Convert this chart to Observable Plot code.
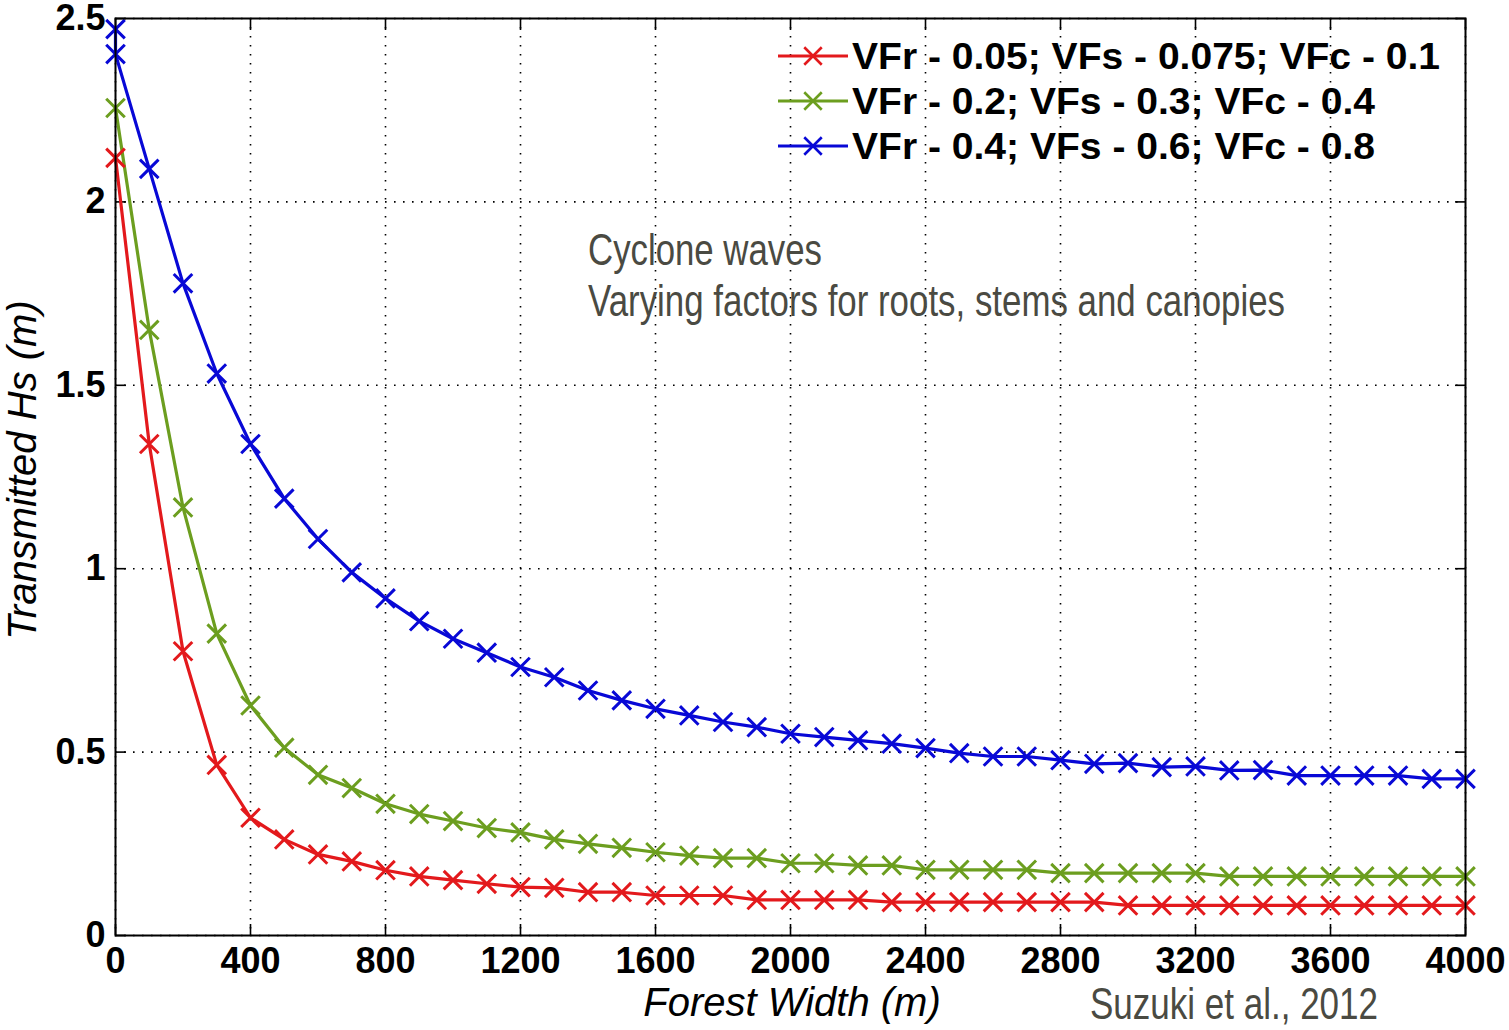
<!DOCTYPE html>
<html><head><meta charset="utf-8">
<script src="https://cdn.jsdelivr.net/npm/d3@7"></script>
<script src="https://cdn.jsdelivr.net/npm/@observablehq/plot@0.6"></script>
<style>html,body{margin:0;padding:0;background:#fff} svg{display:block}</style>
</head><body><div id="chart"></div>
<script>
// Forest width (m), every 100 m
const widths = [0,100,200,300,400,500,600,700,800,900,1000,1100,1200,1300,1400,1500,1600,1700,1800,1900,2000,
  2100,2200,2300,2400,2500,2600,2700,2800,2900,3000,3100,3200,3300,3400,3500,3600,3700,3800,3900,4000];
// blue series has an extra starting point at x = 0
const blueWidths = [0, ...widths];

const redVals = [2.12,1.34,0.775,0.465,0.321,0.262,0.221,0.202,0.178,0.161,0.151,0.141,0.132,0.130,0.118,0.118,
  0.109,0.109,0.109,0.097,0.097,0.097,0.097,0.091,0.091,0.091,0.091,0.091,0.091,0.091,
  0.082,0.082,0.082,0.082,0.082,0.082,0.082,0.082,0.082,0.082,0.082];
const greenVals = [2.256,1.651,1.167,0.823,0.627,0.512,0.438,0.402,0.359,0.331,0.312,0.293,0.281,0.262,0.250,0.239,
  0.227,0.218,0.211,0.211,0.197,0.197,0.191,0.191,0.179,0.179,0.179,0.179,0.170,0.170,0.170,0.170,0.170,
  0.161,0.161,0.161,0.161,0.161,0.161,0.161,0.161];
const blueVals = [2.471,2.403,2.090,1.778,1.532,1.340,1.191,1.081,0.990,0.919,0.857,0.809,0.771,0.732,0.704,0.668,
  0.641,0.618,0.600,0.582,0.568,0.550,0.541,0.532,0.523,0.511,0.497,0.488,0.488,0.478,0.468,0.470,0.459,0.461,
  0.450,0.451,0.436,0.436,0.436,0.436,0.427,0.427];

const seriesNames = ["VFr - 0.05; VFs - 0.075; VFc - 0.1", "VFr - 0.2; VFs - 0.3; VFc - 0.4", "VFr - 0.4; VFs - 0.6; VFc - 0.8"];
const seriesColors = ["#e3191c", "#6c9e1f", "#0808d6"];
const xTicks = [0,400,800,1200,1600,2000,2400,2800,3200,3600,4000];
const yTicks = [0,0.5,1,1.5,2,2.5];
const xLabel = "Forest Width (m)";
const yLabel = "Transmitted Hs (m)";
const noteLines = ["Cyclone waves", "Varying factors for roots, stems and canopies"];
const sourceText = "Suzuki et al., 2012";

const rows = [
  ...widths.map((w, i) => ({x: w, y: redVals[i], series: seriesNames[0]})),
  ...widths.map((w, i) => ({x: w, y: greenVals[i], series: seriesNames[1]})),
  ...blueWidths.map((w, i) => ({x: w, y: blueVals[i], series: seriesNames[2]}))
];

const tickFont = {fontSize: 36, fontWeight: "bold"};

const plot = Plot.plot({
  width: 1509, height: 1030,
  marginLeft: 115, marginRight: 44, marginTop: 18, marginBottom: 95,
  style: {fontFamily: "'Liberation Sans', Arial, sans-serif", background: "#fff", overflow: "visible", color: "#000"},
  x: {domain: [0, 4000]},
  y: {domain: [0, 2.5]},
  color: {domain: seriesNames, range: seriesColors},
  marks: [
    Plot.gridX(xTicks, {stroke: "#000", strokeOpacity: 1, strokeWidth: 1.6, strokeDasharray: "1.6,7.4"}),
    Plot.gridY(yTicks, {stroke: "#000", strokeOpacity: 1, strokeWidth: 1.6, strokeDasharray: "1.6,7.4"}),
    Plot.axisX(xTicks, {anchor: "bottom", tickSize: -11, text: null, label: null, strokeWidth: 1.6}),
    Plot.axisX(xTicks, {anchor: "top", tickSize: -11, text: null, label: null, strokeWidth: 1.6}),
    Plot.axisY(yTicks, {anchor: "left", tickSize: -11, text: null, label: null, strokeWidth: 1.6}),
    Plot.axisY(yTicks, {anchor: "right", tickSize: -11, text: null, label: null, strokeWidth: 1.6}),
    Plot.axisX(xTicks, {anchor: "bottom", tickSize: 0, tickPadding: 12, label: null, tickFormat: d => String(d), ...tickFont}),
    Plot.axisY(yTicks, {anchor: "left", tickSize: 0, tickPadding: 10, label: null, tickFormat: d => String(d), ...tickFont}),
    Plot.line(rows, {x: "x", y: "y", z: "series", stroke: "series", strokeWidth: 3.2}),
    Plot.dot(rows, {x: "x", y: "y", stroke: "series", symbol: "times", r: 8.5, strokeWidth: 3}),
    Plot.frame({stroke: "#000", strokeWidth: 2})
  ]
});

const svg = d3.select(plot);
const baseFont = "'Liberation Sans', Arial, sans-serif";
// axis titles
svg.append("text").text(xLabel)
  .attr("x", 792).attr("y", 1016).attr("text-anchor", "middle")
  .attr("font-family", baseFont).attr("font-style", "italic")
  .attr("font-size", 40).attr("fill", "#000");
svg.append("text").text(yLabel)
  .attr("transform", "translate(36,470) rotate(-90)").attr("text-anchor", "middle")
  .attr("font-family", baseFont).attr("font-style", "italic")
  .attr("font-size", 40).attr("fill", "#000");

// legend
const lg = svg.append("g").attr("text-anchor", "start");
seriesNames.forEach((name, i) => {
  const cy = 56 + 45 * i;
  lg.append("line").attr("x1", 778).attr("x2", 848).attr("y1", cy).attr("y2", cy)
    .attr("stroke", seriesColors[i]).attr("stroke-width", 3);
  lg.append("path").attr("d", d3.symbol(d3.symbolTimes, Math.PI * 64)())
    .attr("transform", `translate(813,${cy})`).attr("fill", "none")
    .attr("stroke", seriesColors[i]).attr("stroke-width", 2.6);
  lg.append("text").text(name).attr("x", 852).attr("y", cy + 13).attr("text-anchor", "start")
    .attr("font-family", baseFont).attr("font-weight", "bold")
    .attr("font-size", 37).attr("fill", "#000")
    .attr("textLength", [588, 523, 523][i]).attr("lengthAdjust", "spacingAndGlyphs");
});

// annotation
const noteFont = "'Liberation Sans Narrow', 'Liberation Sans', Arial, sans-serif";
svg.append("text").text(noteLines[0]).attr("x", 588).attr("y", 265).attr("text-anchor", "start")
  .attr("font-family", noteFont).attr("font-size", 44).attr("fill", "#4a4a42")
  .attr("textLength", 234).attr("lengthAdjust", "spacingAndGlyphs");
svg.append("text").text(noteLines[1]).attr("x", 588).attr("y", 316).attr("text-anchor", "start")
  .attr("font-family", noteFont).attr("font-size", 44).attr("fill", "#4a4a42")
  .attr("textLength", 697).attr("lengthAdjust", "spacingAndGlyphs");
svg.append("text").text(sourceText).attr("x", 1090).attr("y", 1019).attr("text-anchor", "start")
  .attr("font-family", noteFont).attr("font-size", 44).attr("fill", "#4a4a42")
  .attr("textLength", 288).attr("lengthAdjust", "spacingAndGlyphs");

document.getElementById("chart").appendChild(plot);
</script>
</body></html>
